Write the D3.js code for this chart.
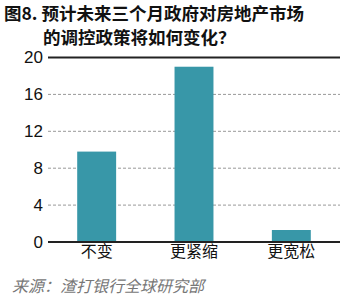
<!DOCTYPE html>
<html>
<head>
<meta charset="utf-8">
<script src="https://cdn.jsdelivr.net/npm/d3@7"></script>
<style>
  body { margin: 0; background: #fff; }
  svg { display: block; }
</style>
</head>
<body>
<div id="chart"></div>
<script>
const categories = ['不变', '更紧缩', '更宽松'];
const values = [9.8, 19.0, 1.3];
const yTicks = [0, 4, 8, 12, 16, 20];
const titleLines = ['图8. 预计未来三个月政府对房地产市场', '的调控政策将如何变化？'];
const sourceText = '来源：渣打银行全球研究部';

const width = 355, height = 296;
const margin = { top: 57.5, right: 15, bottom: 54, left: 48 };

const svg = d3.select('#chart').append('svg')
    .attr('width', width)
    .attr('height', height);

const x = d3.scaleBand()
    .domain(categories)
    .range([margin.left, width - margin.right])
    .paddingInner(0.6)
    .paddingOuter(0.3);

const y = d3.scaleLinear()
    .domain([0, 20])
    .range([height - margin.bottom, margin.top]);

// title
svg.append('g')
    .selectAll('text')
    .data(titleLines)
    .join('text')
    .attr('x', (d, i) => i === 0 ? 4 : 43)
    .attr('y', (d, i) => 20 + i * 24)
    .attr('font-family', '"Noto Sans CJK SC", sans-serif')
    .attr('font-weight', 'bold')
    .attr('font-size', 17.5)
    .attr('fill', '#111')
    .text(d => d);

// gridlines (dashed for inner ticks)
svg.append('g')
    .selectAll('line')
    .data(yTicks.filter(t => t !== 0 && t !== 20))
    .join('line')
    .attr('x1', margin.left)
    .attr('x2', width - margin.right)
    .attr('y1', d => y(d))
    .attr('y2', d => y(d))
    .attr('stroke', '#999')
    .attr('stroke-width', 1)
    .attr('stroke-dasharray', '3,2');

// top solid line
svg.append('line')
    .attr('x1', margin.left)
    .attr('x2', width - margin.right)
    .attr('y1', y(20))
    .attr('y2', y(20))
    .attr('stroke', '#222')
    .attr('stroke-width', 2);

// bars
svg.append('g')
    .selectAll('rect')
    .data(values)
    .join('rect')
    .attr('x', (d, i) => x(categories[i]))
    .attr('y', d => y(d))
    .attr('width', x.bandwidth())
    .attr('height', d => y(0) - y(d))
    .attr('fill', '#3897a8');

// baseline
svg.append('line')
    .attr('x1', margin.left)
    .attr('x2', width - margin.right)
    .attr('y1', y(0))
    .attr('y2', y(0))
    .attr('stroke', '#222')
    .attr('stroke-width', 2);

// y axis labels
const yAxis = d3.axisLeft(y).tickValues(yTicks).tickSize(0).tickPadding(5);
const yg = svg.append('g')
    .attr('transform', `translate(${margin.left},0)`)
    .call(yAxis);
yg.select('.domain').remove();
yg.selectAll('text')
    .attr('font-family', '"Liberation Sans", Arial, sans-serif')
    .attr('font-size', 17)
    .attr('fill', '#111');

// x axis labels
const xAxis = d3.axisBottom(x).tickSize(0).tickPadding(4);
const xg = svg.append('g')
    .attr('transform', `translate(0,${y(0)})`)
    .call(xAxis);
xg.select('.domain').remove();
xg.selectAll('text')
    .attr('font-family', '"Noto Sans CJK SC", sans-serif')
    .attr('font-size', 16)
    .attr('fill', '#111');

// source
svg.append('text')
    .attr('x', 12)
    .attr('y', 292)
    .attr('font-family', '"Noto Sans CJK SC", sans-serif')
    .attr('font-style', 'italic')
    .attr('font-size', 16)
    .attr('fill', '#777')
    .text(sourceText);
</script>
</body>
</html>
